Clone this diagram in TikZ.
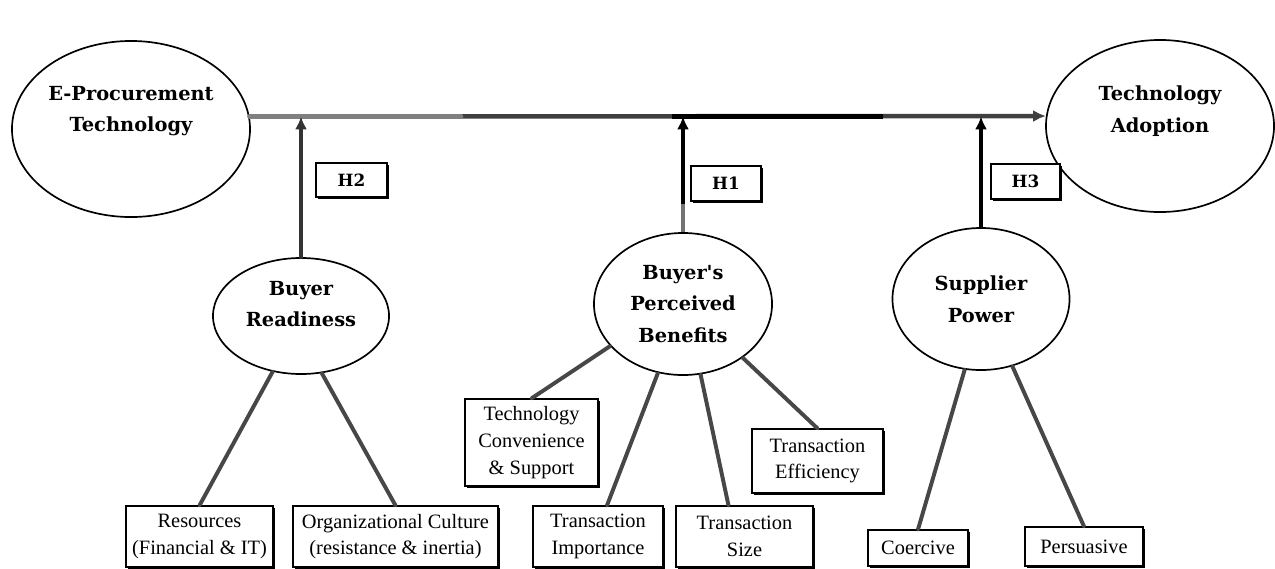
\documentclass[tikz,border=0pt]{standalone}
\usepackage{fontspec}
\setmainfont{Liberation Serif}
\newfontfamily\slabfont{DejaVu Serif}
\usetikzlibrary{arrows.meta}
\usetikzlibrary{calc}
\usetikzlibrary{shapes.geometric}
\usetikzlibrary{shadows}

\tikzset{
    construct/.style={ellipse, draw, line width=1.2pt, fill=white, inner sep=0pt},
    constext/.style={align=center, font=\slabfont\bfseries\fontsize{13.8}{22.5}\selectfont},
    measure/.style={draw, fill=white, line width=0.8pt, inner sep=1pt, align=center,
        font=\fontsize{14.5}{19}\selectfont,
        drop shadow={opacity=1, fill=black, shadow xshift=1.3pt, shadow yshift=-1.5pt}},
    hypo/.style={measure, font=\slabfont\bfseries\fontsize{12}{13}\selectfont},
    link/.style={line width=2.8pt, draw=black!72},
    hyparrow/.style={line width=2.8pt, -{Latex[length=3.2mm, width=3mm]}},
}

\begin{document}
\begin{tikzpicture}[x=0.025cm, y=-0.025cm, line cap=round]
    \useasboundingbox (0,0) rectangle (1275,568);

    % outer constructs
    \node[construct, minimum width=5.95cm, minimum height=4.4cm] (eproc) at (131,129) {};
    \node[constext] (eproctxt) at (131,111) {E-Procurement\\Technology};
    \node[construct, minimum width=5.7cm, minimum height=4.3cm] (tadopt) at (1160,126) {};
    \node[constext] (tadopttxt) at (1160,111) {Technology\\Adoption};

    % moderators and driver
    \node[construct, minimum width=4.4cm, minimum height=2.9cm] (br) at (301,316) {};
    \node[constext] (brtxt) at (301,304) {Buyer\\Readiness};
    \node[construct, minimum width=4.45cm, minimum height=3.55cm, constext] (bpb) at (683,304) {Buyer's\\Perceived\\Benefits};
    \node[construct, minimum width=4.425cm, minimum height=3.55cm, constext] (sp) at (981,299) {Supplier\\Power};

    % main path
    \coordinate (mainL) at (eproc.6);
    \draw[line width=3.2pt, draw=black!75, -{Latex[length=3.2mm, width=3mm]}] (mainL) -- (tadopt.175);
    \draw[line width=3.2pt, draw=black!50] (mainL) -- (mainL -| 461,0);
    \draw[line width=3.2pt, draw=black, line cap=butt] (mainL -| 672,0) -- (mainL -| 883,0);

    % hypotheses
    \draw[hyparrow, black!80] (br) -- (br.north |- mainL);
    \draw[hyparrow, black] (bpb) -- (bpb.north |- mainL);
    \draw[hyparrow, black] (sp) -- (sp.north |- mainL);
    \draw[line width=2.8pt, black!55, line cap=butt] (bpb.north) -- ($(bpb.north)+(0,-28)$);

    \node[hypo, minimum width=1.775cm, minimum height=0.85cm] (h2) at (351.5,180) {H2};
    \node[hypo, minimum width=1.75cm, minimum height=0.875cm] (h1) at (726,183.5) {H1};
    \node[hypo, minimum width=1.725cm, minimum height=0.875cm] (h3) at (1025.5,181.5) {H3};

    % indicators
    \node[measure, minimum width=3.675cm, minimum height=1.525cm] (res) at (199.5,536.5) {Resources\\(Financial \& IT)};
    \node[measure, minimum width=5.125cm, minimum height=1.525cm] (org) at (395.5,536.5) {Organizational Culture\\(resistance \& inertia)};
    \node[measure, minimum width=3.325cm, minimum height=2.175cm] (tconv) at (531.5,442.5) {Technology\\Convenience\\\& Support};
    \node[measure, minimum width=3.25cm, minimum height=1.525cm] (timp) at (598,536.5) {Transaction\\Importance};
    \node[measure, minimum width=3.425cm, minimum height=1.525cm] (tsize) at (744.5,536.5) {Transaction\\Size};
    \node[measure, minimum width=3.275cm, minimum height=1.6cm] (teff) at (817.5,461) {Transaction\\Efficiency};
    \node[measure, minimum width=2.5cm, minimum height=0.9cm] (coer) at (918,548) {Coercive};
    \node[measure, minimum width=2.95cm, minimum height=0.975cm] (pers) at (1084,546.5) {Persuasive};

    \draw[link] (br.243) -- (res.north);
    \draw[link] (br.290) -- (org.north);
    \draw[link] (bpb.210) -- (tconv.north);
    \draw[link] (bpb.250) -- ($(timp.north)+(9,0)$);
    \draw[link] (bpb.284) -- ($(tsize.north)+(-16,0)$);
    \draw[link] (bpb.318) -- (teff.north);
    \draw[link] (sp.257) -- (coer.north);
    \draw[link] (sp.295) -- (pers.north);
\end{tikzpicture}
\end{document}
